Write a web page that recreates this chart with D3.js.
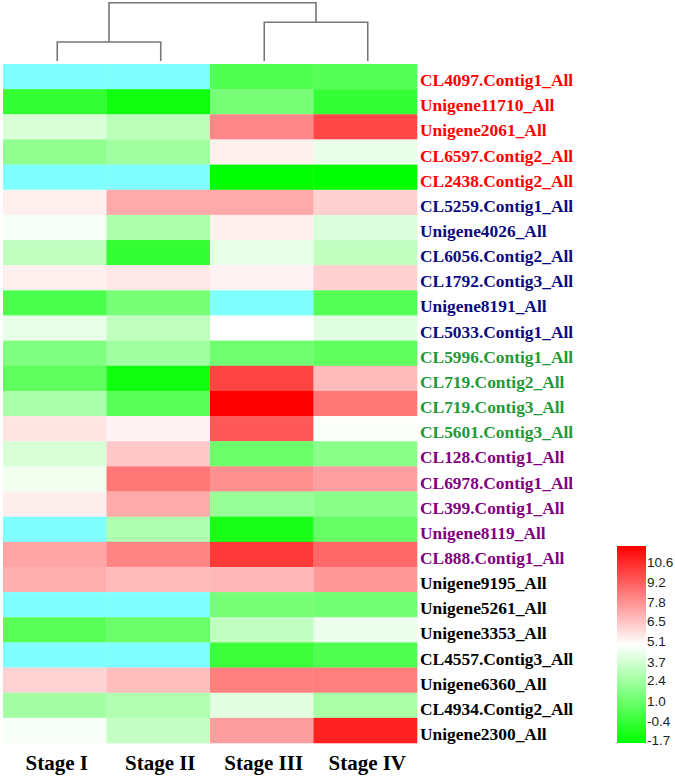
<!DOCTYPE html>
<html><head><meta charset="utf-8">
<script src="https://cdn.jsdelivr.net/npm/d3@7"></script>
<style>html,body{margin:0;padding:0;background:#fff;}svg{display:block;}</style>
</head><body>
<svg id="chart" width="675" height="777"></svg>
<script>
const stages = ["Stage I", "Stage II", "Stage III", "Stage IV"];
const genes = ["CL4097.Contig1_All","Unigene11710_All","Unigene2061_All","CL6597.Contig2_All","CL2438.Contig2_All",
  "CL5259.Contig1_All","Unigene4026_All","CL6056.Contig2_All","CL1792.Contig3_All","Unigene8191_All","CL5033.Contig1_All",
  "CL5996.Contig1_All","CL719.Contig2_All","CL719.Contig3_All","CL5601.Contig3_All",
  "CL128.Contig1_All","CL6978.Contig1_All","CL399.Contig1_All","Unigene8119_All","CL888.Contig1_All",
  "Unigene9195_All","Unigene5261_All","Unigene3353_All","CL4557.Contig3_All","Unigene6360_All","CL4934.Contig2_All","Unigene2300_All"];
const geneGroup = [0,0,0,0,0, 1,1,1,1,1,1, 2,2,2,2, 3,3,3,3,3, 4,4,4,4,4,4,4];
const groupColors = ["#ff0000","#0a0a80","#1f9a3a","#800080","#000000"];
// null = missing value (drawn cyan)
const values = [
  [null, null, 0.23, 0.35],
  [-0.47, -1.31, 1.18, -0.42],
  [3.52, 2.8, 7.34, 8.88],
  [1.77, 2.15, 4.82, 3.95],
  [null, null, -1.7, -1.7],
  [4.82, 6.5, 6.5, 5.58],
  [4.28, 2.52, 4.82, 3.56],
  [2.93, -0.47, 3.95, 2.93],
  [4.82, 5.0, 4.75, 5.58],
  [0.13, 1.18, null, 0.35],
  [3.9, 2.93, 4.45, 3.71],
  [1.38, 2.15, 1.0, 0.61],
  [0.61, -1.31, 8.96, 6.09],
  [2.4, 0.42, 10.6, 7.73],
  [5.1, 4.75, 8.48, 4.4],
  [3.52, 5.78, 0.91, 1.62],
  [4.09, 7.73, 7.13, 6.73],
  [4.86, 6.5, 1.97, 1.62],
  [null, 2.54, -1.12, 0.76],
  [6.62, 7.4, 9.25, 8.08],
  [6.36, 6.09, 6.17, 6.91],
  [null, null, 1.18, 1.08],
  [0.42, 0.86, 2.98, 4.0],
  [null, null, -0.3, 0.23],
  [5.5, 6.05, 7.53, 7.53],
  [2.25, 2.6, 3.75, 2.36],
  [4.28, 3.03, 6.79, 9.83]
];
const legendTicks = [10.6, 9.2, 7.8, 6.5, 5.1, 3.7, 2.4, 1.0, -0.4, -1.7];
// column dendrogram (merge heights)
const colTree = {height: 1.0, children: [
  {height: 0.326, children: [{name: "Stage I"}, {name: "Stage II"}]},
  {height: 0.664, children: [{name: "Stage III"}, {name: "Stage IV"}]}
]};

const svg = d3.select("#chart");
const x = d3.scaleBand().domain(stages).range([3, 417]);
const y = d3.scaleBand().domain(genes).range([64, 743]);
const color = d3.scaleLinear().domain([-1.7, 4.45, 10.6]).range(["#00ff00", "#ffffff", "#ff0000"]).clamp(true);
const naColor = "#80ffff";

// cells
const cells = [];
values.forEach((row, i) => row.forEach((v, j) => cells.push({g: genes[i], s: stages[j], v})));
svg.append("g").selectAll("rect").data(cells).join("rect")
  .attr("x", d => x(d.s)).attr("y", d => y(d.g))
  .attr("width", x.bandwidth() + 0.3).attr("height", y.bandwidth() + 0.3)
  .attr("fill", d => d.v === null ? naColor : color(d.v));

// row labels
svg.append("g").selectAll("text").data(genes).join("text")
  .attr("x", 420).attr("y", d => y(d) + y.bandwidth() / 2 + 3.5)
  .attr("dy", "0.35em")
  .attr("font-family", "'Liberation Serif','Times New Roman',serif")
  .attr("font-weight", "bold").attr("font-size", 17.4)
  .attr("fill", (d, i) => groupColors[geneGroup[i]])
  .text(d => d);

// column labels
svg.append("g").selectAll("text").data(stages).join("text")
  .attr("x", d => x(d) + x.bandwidth() / 2 + 2).attr("y", 770)
  .attr("text-anchor", "middle")
  .attr("font-family", "'Liberation Serif','Times New Roman',serif")
  .attr("font-weight", "bold").attr("font-size", 21)
  .attr("fill", "#000")
  .text(d => d);

// dendrogram
const root = d3.hierarchy(colTree);
const hy = d3.scaleLinear().domain([0, 1]).range([61, 2.7]);
root.eachAfter(n => {
  if (!n.children) { n.px = x(n.data.name) + x.bandwidth() / 2 + 2.5; n.py = hy(0); }
  else { n.px = d3.mean(n.children, c => c.px); n.py = hy(n.data.height); }
});
const dg = svg.append("g").attr("fill", "none").attr("stroke", "#777").attr("stroke-width", 1.6);
root.each(n => {
  if (n.children) {
    const [a, b] = n.children;
    dg.append("path").attr("d", `M${a.px},${a.py}V${n.py}H${b.px}V${b.py}`);
  }
});

// legend
const defs = svg.append("defs");
const grad = defs.append("linearGradient").attr("id", "lg").attr("x1", 0).attr("x2", 0).attr("y1", 1).attr("y2", 0);
[0, 0.5, 1].forEach((t, i) => grad.append("stop").attr("offset", t).attr("stop-color", color(color.domain()[i])));
svg.append("rect").attr("x", 617).attr("y", 546).attr("width", 29).attr("height", 197).attr("fill", "url(#lg)");
const ly = d3.scaleLinear().domain([-1.7, 10.6]).range([740, 562]);
svg.append("g").selectAll("text").data(legendTicks).join("text")
  .attr("x", 647).attr("y", d => ly(d)).attr("dy", "0.35em")
  .attr("font-family", "'Liberation Sans',Arial,sans-serif").attr("font-size", 13.5)
  .attr("fill", "#222")
  .text(d => d.toFixed(1));
</script>
</body></html>
